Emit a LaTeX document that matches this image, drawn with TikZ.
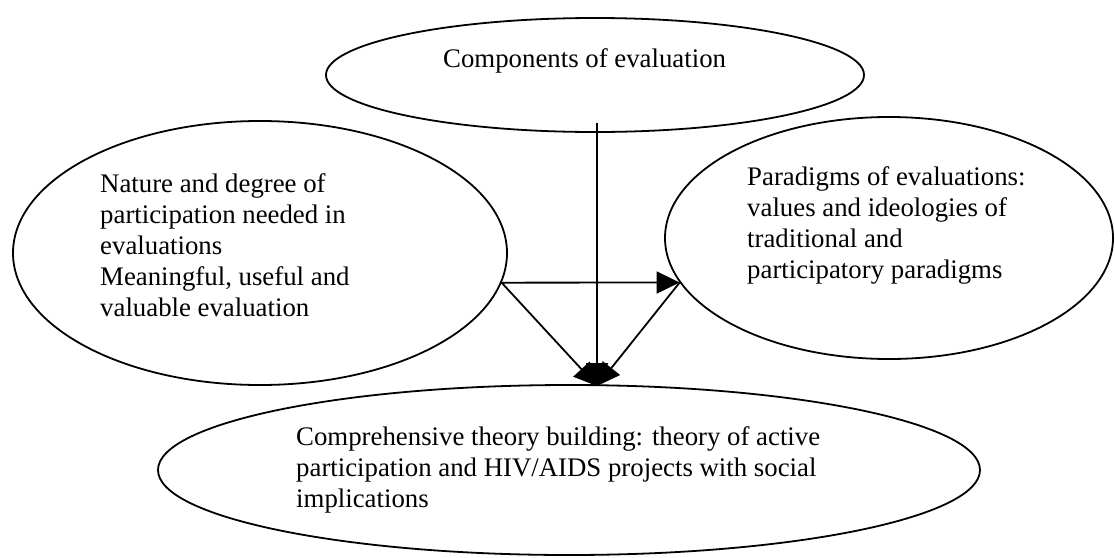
\documentclass[tikz,border=0pt]{standalone}
\usepackage{fontspec}
\setmainfont{Liberation Serif}
\usetikzlibrary{shapes.geometric,arrows.meta}
% top-aligned paragraph: its reference point is the first baseline
\newcommand\bubbleblock[1]{\parbox[t]{700pt}{\raggedright #1}}
\begin{document}
\begin{tikzpicture}[x=1pt,y=-1pt,
  bubble/.style={ellipse,draw,line width=1.8pt,inner sep=0pt},
  bubbletext/.style={anchor=base west,inner sep=0pt,
    font=\fontsize{26.8}{31}\selectfont},
  link/.style={line width=1.8pt},
  tip/.style={-{Triangle[length=23pt,width=22pt]}}
]
\useasboundingbox (0,0) rectangle (1115,557);

% the four ellipses
\node[bubble,minimum width=538pt,minimum height=114pt] (comp)   at (595,75)  {};
\node[bubble,minimum width=494pt,minimum height=264pt] (nature) at (260,253) {};
\node[bubble,minimum width=448pt,minimum height=242pt] (parad)  at (889,238) {};
\node[bubble,minimum width=822pt,minimum height=170pt] (theory) at (569,470) {};

% their texts
\node[bubbletext] (compT) at (443,67)
  {\bubbleblock{Components of evaluation}};
\node[bubbletext] (natureT) at (100,192)
  {\bubbleblock{Nature and degree of\\participation needed in\\evaluations\\Meaningful, useful and\\valuable evaluation}};
\node[bubbletext] (paradT) at (747,185)
  {\bubbleblock{Paradigms of evaluations:\\values and ideologies of\\traditional and\\participatory paradigms}};
\node[bubbletext] (theoryT) at (296,445)
  {\bubbleblock{Comprehensive theory building: theory of active\\participation and HIV/AIDS projects with social\\implications}};

% connectors
\coordinate (vtop) at (597,123);
\coordinate (meet) at (597,386);
\draw[link,tip] (vtop) -- (meet);
\draw[link,tip] (nature.-7) -- (parad.-168);
\draw[link,tip] (nature.-7) -- (meet);
\draw[link,tip] (parad.-168) -- (meet);
\end{tikzpicture}
\end{document}
